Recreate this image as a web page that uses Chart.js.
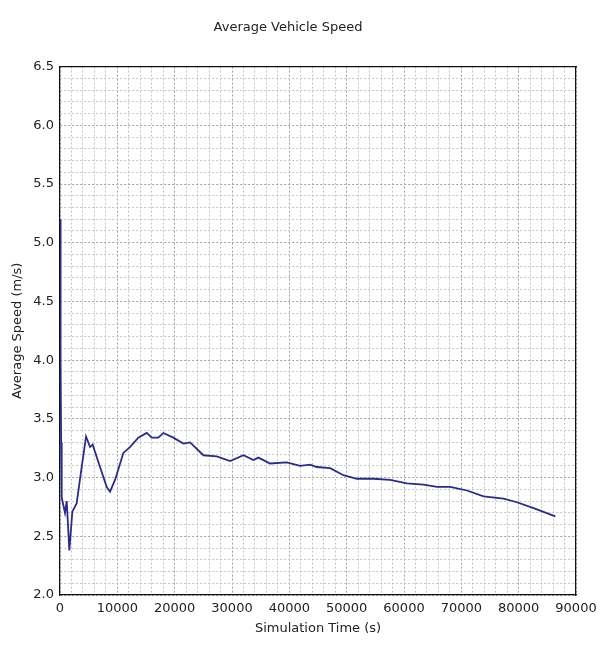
<!DOCTYPE html>
<html>
<head>
<meta charset="utf-8">
<script src="https://cdn.jsdelivr.net/npm/chart.js@4.4.1/dist/chart.umd.min.js"></script>
<style>
  html, body { margin: 0; padding: 0; background: #fff; }
  #wrap { width: 603px; height: 648px; }
</style>
</head>
<body>
<div id="wrap"><canvas id="speedChart" width="603" height="648"></canvas></div>
<script>
// values
const timeS = [0, 100, 200, 300, 870, 1170, 1630, 2150, 2900, 3780, 4540, 5240, 5700, 6100, 6980,
  8150, 8730, 9600, 11050, 12200, 13660, 15130, 16000, 17150, 18030, 19770, 21520, 22690,
  25010, 27340, 29670, 32000, 33740, 34600, 36650, 39560, 41880, 43630, 44800, 47120,
  49440, 51780, 54680, 57590, 60500, 63400, 65740, 68060, 70980, 73880, 77370, 79700,
  82600, 86400];
const speedMs = [5.2, 4.0, 3.3, 2.83, 2.70, 2.80, 2.38, 2.71, 2.78, 3.09, 3.35, 3.26, 3.28, 3.22, 3.09,
  2.92, 2.88, 2.98, 3.21, 3.26, 3.34, 3.38, 3.34, 3.34, 3.38, 3.34, 3.29, 3.30,
  3.19, 3.18, 3.14, 3.19, 3.15, 3.17, 3.12, 3.13, 3.10, 3.11, 3.09, 3.08,
  3.02, 2.99, 2.99, 2.98, 2.95, 2.94, 2.92, 2.92, 2.89, 2.84, 2.82, 2.79,
  2.74, 2.67];

const xMin = 0, xMax = 90000, xMajor = 10000, xMinor = 2000;
const yMin = 2.0, yMax = 6.5, yMajor = 0.5, yMinor = 0.1;

const points = timeS.map((t, i) => ({ x: t, y: speedMs[i] }));

function isMajor(v, step) {
  const r = v / step;
  return Math.abs(r - Math.round(r)) < 1e-6;
}

const fontFam = "'DejaVu Sans', sans-serif";

new Chart(document.getElementById('speedChart'), {
  type: 'scatter',
  data: {
    datasets: [{
      data: points,
      showLine: true,
      borderColor: '#2b2b8c',
      borderWidth: 1.8,
      pointRadius: 0,
      tension: 0
    }]
  },
  options: {
    responsive: false,
    animation: false,
    layout: { padding: { left: 0, right: 27, top: 0, bottom: 0 } },
    plugins: {
      legend: { display: false },
      tooltip: { enabled: false },
      title: {
        display: true,
        text: 'Average Vehicle Speed',
        color: '#222',
        font: { family: fontFam, size: 13, weight: 'normal' },
        padding: { top: 20, bottom: 31 }
      }
    },
    scales: {
      x: {
        type: 'linear',
        min: xMin, max: xMax,
        // border.dash styles the grid lines in v4
        border: { display: true, color: '#111', width: 1.2, dash: [2, 2] },
        grid: {
          color: ctx => isMajor(ctx.tick.value, xMajor) ? '#a0a0a0' : '#c4c4c4',
          lineWidth: 1,
          drawTicks: false
        },
        ticks: {
          stepSize: xMinor,
          autoSkip: false,
          maxRotation: 0,
          color: '#222',
          padding: 6,
          font: { family: fontFam, size: 13 },
          callback: v => isMajor(v, xMajor) ? String(Math.round(v)) : ''
        },
        title: {
          display: true,
          text: 'Simulation Time (s)',
          color: '#222',
          font: { family: fontFam, size: 13 },
          padding: { top: 0, bottom: 12 }
        },
        afterFit: s => { s.height = 53; }
      },
      y: {
        type: 'linear',
        min: yMin, max: yMax,
        border: { display: true, color: '#111', width: 1.2, dash: [2, 2] },
        grid: {
          color: ctx => isMajor(ctx.tick.value, yMajor) ? '#a0a0a0' : '#c4c4c4',
          lineWidth: 1,
          drawTicks: false
        },
        ticks: {
          stepSize: yMinor,
          autoSkip: false,
          color: '#222',
          padding: 6,
          font: { family: fontFam, size: 13 },
          callback: v => isMajor(v, yMajor) ? v.toFixed(1) : ''
        },
        title: {
          display: true,
          text: 'Average Speed (m/s)',
          color: '#222',
          font: { family: fontFam, size: 13 },
          padding: { top: 10, bottom: 0 }
        },
        afterFit: s => { s.width = 60; }
      },
      // frame on the top and right
      x2: {
        type: 'linear', position: 'top', min: xMin, max: xMax,
        border: { display: true, color: '#111', width: 1.2 },
        grid: { display: false },
        ticks: { display: false },
        afterFit: s => { s.height = 0; }
      },
      y2: {
        type: 'linear', position: 'right', min: yMin, max: yMax,
        border: { display: true, color: '#111', width: 1.2 },
        grid: { display: false },
        ticks: { display: false },
        afterFit: s => { s.width = 0; }
      }
    }
  }
});
</script>
</body>
</html>
